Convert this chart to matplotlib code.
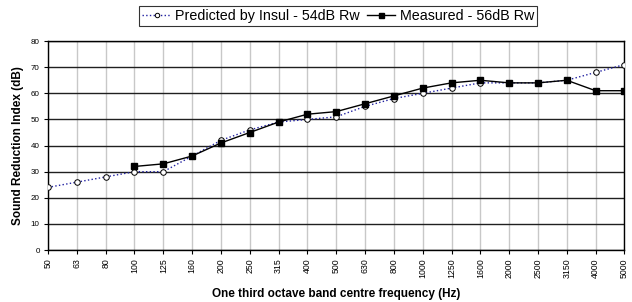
import numpy as np
import matplotlib
matplotlib.use("Agg")
from matplotlib import pyplot as plt

freqs = ['50', '63', '80', '100', '125', '160', '200', '250', '315', '400', '500',
         '630', '800', '1000', '1250', '1600', '2000', '2500', '3150', '4000', '5000']

predicted = [24, 26, 28, 30, 30, 36, 42, 46, 49, 50, 51, 55, 58, 60, 62, 64, 64, 64, 65, 68, 71]

# measured starts at 100 Hz
measured_freqs = freqs[3:]
measured = [32, 33, 36, 41, 45, 49, 52, 53, 56, 59, 62, 64, 65, 64, 64, 65, 61, 61]

plt.rcParams['font.family'] = ['Liberation Sans', 'DejaVu Sans']

fig = plt.figure(figsize=(6.32, 3.02), dpi=100)
ax = fig.add_axes([0.076, 0.172, 0.912, 0.692])

x = np.arange(len(freqs))
xm = np.array([freqs.index(f) for f in measured_freqs])

ax.plot(x, predicted, linestyle=':', color='#2020a0', linewidth=1.0, marker='o',
        markersize=4, markerfacecolor='white', markeredgecolor='black',
        markeredgewidth=0.7, label='Predicted by Insul - 54dB Rw', zorder=3)
ax.plot(xm, measured, linestyle='-', color='black', linewidth=1.0, marker='s',
        markersize=4.5, markerfacecolor='black', markeredgecolor='black',
        label='Measured - 56dB Rw', zorder=4)

ax.set_xlim(0, len(freqs) - 1)
ax.set_ylim(0, 80)
ax.set_xticks(x)
ax.set_xticklabels(freqs, rotation=90, fontsize=6.3)
ax.set_yticks(range(0, 81, 10))
ax.tick_params(axis='y', labelsize=5.8, length=3, width=0.8, pad=3)
ax.tick_params(axis='x', length=3, width=0.8, pad=3)

ax.grid(axis='y', color='#202020', linewidth=1.0)
ax.grid(axis='x', color='#c8c8c8', linewidth=1.0)
ax.set_axisbelow(True)
for s in ax.spines.values():
    s.set_linewidth(1.0)
    s.set_color('black')

ax.set_xlabel('One third octave band centre frequency (Hz)', fontsize=8.5,
              fontweight='bold', labelpad=7)
ax.set_ylabel('Sound Reduction Index (dB)', fontsize=8.5, fontweight='bold',
              labelpad=5)

leg = fig.legend(loc='upper center', bbox_to_anchor=(0.535, 0.99), ncol=2,
                 fontsize=10.3, frameon=True, fancybox=False, edgecolor='black',
                 handlelength=2.0, columnspacing=0.5, handletextpad=0.3,
                 borderpad=0.2, borderaxespad=0.2, markerscale=0.8)
leg.get_frame().set_linewidth(0.8)

fig.savefig('out.png', dpi=100)
